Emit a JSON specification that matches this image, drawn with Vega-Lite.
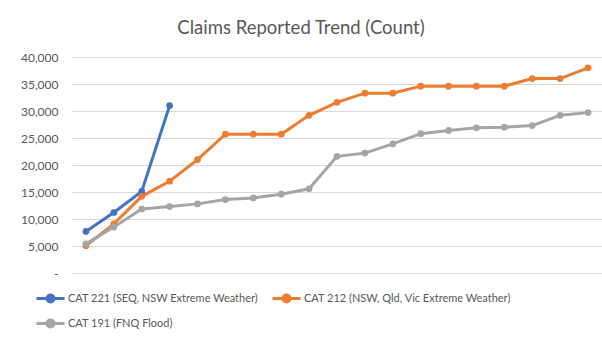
{
  "$schema": "https://vega.github.io/schema/vega-lite/v6.json",
  "autosize": "none",
  "width": 530,
  "height": 216,
  "padding": {"left": 72, "top": 57, "right": 0, "bottom": 81},
  "background": "white",
  "title": {
    "text": "Claims Reported Trend (Count)",
    "font": "Lato",
    "fontSize": 18.5,
    "fontWeight": "normal",
    "color": "#595959",
    "anchor": "middle",
    "dx": -36,
    "offset": 14
  },
  "config": {
    "view": {"stroke": null},
    "font": "Lato"
  },
  "data": {
    "values": [
      {"t": 0, "series": "CAT 221 (SEQ, NSW Extreme Weather)", "v": 7700},
      {"t": 1, "series": "CAT 221 (SEQ, NSW Extreme Weather)", "v": 11200},
      {"t": 2, "series": "CAT 221 (SEQ, NSW Extreme Weather)", "v": 15100},
      {"t": 3, "series": "CAT 221 (SEQ, NSW Extreme Weather)", "v": 31000},
      {"t": 0, "series": "CAT 212 (NSW, Qld, Vic Extreme Weather)", "v": 5050},
      {"t": 1, "series": "CAT 212 (NSW, Qld, Vic Extreme Weather)", "v": 9100},
      {"t": 2, "series": "CAT 212 (NSW, Qld, Vic Extreme Weather)", "v": 14200},
      {"t": 3, "series": "CAT 212 (NSW, Qld, Vic Extreme Weather)", "v": 17000},
      {"t": 4, "series": "CAT 212 (NSW, Qld, Vic Extreme Weather)", "v": 21000},
      {"t": 5, "series": "CAT 212 (NSW, Qld, Vic Extreme Weather)", "v": 25700},
      {"t": 6, "series": "CAT 212 (NSW, Qld, Vic Extreme Weather)", "v": 25700},
      {"t": 7, "series": "CAT 212 (NSW, Qld, Vic Extreme Weather)", "v": 25700},
      {"t": 8, "series": "CAT 212 (NSW, Qld, Vic Extreme Weather)", "v": 29200},
      {"t": 9, "series": "CAT 212 (NSW, Qld, Vic Extreme Weather)", "v": 31600},
      {"t": 10, "series": "CAT 212 (NSW, Qld, Vic Extreme Weather)", "v": 33300},
      {"t": 11, "series": "CAT 212 (NSW, Qld, Vic Extreme Weather)", "v": 33300},
      {"t": 12, "series": "CAT 212 (NSW, Qld, Vic Extreme Weather)", "v": 34600},
      {"t": 13, "series": "CAT 212 (NSW, Qld, Vic Extreme Weather)", "v": 34600},
      {"t": 14, "series": "CAT 212 (NSW, Qld, Vic Extreme Weather)", "v": 34600},
      {"t": 15, "series": "CAT 212 (NSW, Qld, Vic Extreme Weather)", "v": 34600},
      {"t": 16, "series": "CAT 212 (NSW, Qld, Vic Extreme Weather)", "v": 36000},
      {"t": 17, "series": "CAT 212 (NSW, Qld, Vic Extreme Weather)", "v": 36000},
      {"t": 18, "series": "CAT 212 (NSW, Qld, Vic Extreme Weather)", "v": 38000},
      {"t": 0, "series": "CAT 191 (FNQ Flood)", "v": 5400},
      {"t": 1, "series": "CAT 191 (FNQ Flood)", "v": 8500},
      {"t": 2, "series": "CAT 191 (FNQ Flood)", "v": 11850},
      {"t": 3, "series": "CAT 191 (FNQ Flood)", "v": 12300},
      {"t": 4, "series": "CAT 191 (FNQ Flood)", "v": 12800},
      {"t": 5, "series": "CAT 191 (FNQ Flood)", "v": 13600},
      {"t": 6, "series": "CAT 191 (FNQ Flood)", "v": 13900},
      {"t": 7, "series": "CAT 191 (FNQ Flood)", "v": 14600},
      {"t": 8, "series": "CAT 191 (FNQ Flood)", "v": 15600},
      {"t": 9, "series": "CAT 191 (FNQ Flood)", "v": 21600},
      {"t": 10, "series": "CAT 191 (FNQ Flood)", "v": 22200},
      {"t": 11, "series": "CAT 191 (FNQ Flood)", "v": 23900},
      {"t": 12, "series": "CAT 191 (FNQ Flood)", "v": 25800},
      {"t": 13, "series": "CAT 191 (FNQ Flood)", "v": 26400},
      {"t": 14, "series": "CAT 191 (FNQ Flood)", "v": 26900},
      {"t": 15, "series": "CAT 191 (FNQ Flood)", "v": 27000},
      {"t": 16, "series": "CAT 191 (FNQ Flood)", "v": 27300},
      {"t": 17, "series": "CAT 191 (FNQ Flood)", "v": 29200},
      {"t": 18, "series": "CAT 191 (FNQ Flood)", "v": 29700}
    ]
  },
  "mark": {"type": "line", "strokeWidth": 3, "point": {"filled": true, "size": 45}},
  "encoding": {
    "x": {
      "field": "t",
      "type": "ordinal",
      "scale": {"type": "point", "padding": 0.5},
      "axis": null
    },
    "y": {
      "field": "v",
      "type": "quantitative",
      "scale": {"domain": [0, 40000], "nice": false},
      "axis": {
        "title": null,
        "values": [0, 5000, 10000, 15000, 20000, 25000, 30000, 35000, 40000],
        "labelExpr": "datum.value === 0 ? '-\u00a0\u00a0\u00a0' : format(datum.value, ',')",
        "labelFont": "Lato",
        "labelFontSize": 12,
        "labelColor": "#595959",
        "labelPadding": 14,
        "ticks": false,
        "domain": false,
        "gridColor": "#D9D9D9",
        "gridWidth": 1
      }
    },
    "color": {
      "field": "series",
      "type": "nominal",
      "sort": ["CAT 221 (SEQ, NSW Extreme Weather)", "CAT 212 (NSW, Qld, Vic Extreme Weather)", "CAT 191 (FNQ Flood)"],
      "scale": {
        "domain": ["CAT 221 (SEQ, NSW Extreme Weather)", "CAT 212 (NSW, Qld, Vic Extreme Weather)", "CAT 191 (FNQ Flood)"],
        "range": ["#4472C4", "#ED7D31", "#A5A5A5"]
      },
      "legend": {
        "title": null,
        "orient": "none",
        "legendX": -37,
        "legendY": 226,
        "columns": 2,
        "direction": "horizontal",
        "columnPadding": 7,
        "rowPadding": -3,
        "symbolType": "M-1,0H1M-0.25,0A0.25,0.25 0 1,0 0.25,0A0.25,0.25 0 1,0 -0.25,0Z",
        "symbolSize": 784,
        "symbolStrokeWidth": 3,
        "labelFont": "Lato",
        "labelFontSize": 11,
        "labelColor": "#595959",
        "labelOffset": 2,
        "labelLimit": 400,
        "encode": {
          "symbols": {"update": {"fill": {"scale": "color", "field": "value"}}}
        }
      }
    }
  }
}
